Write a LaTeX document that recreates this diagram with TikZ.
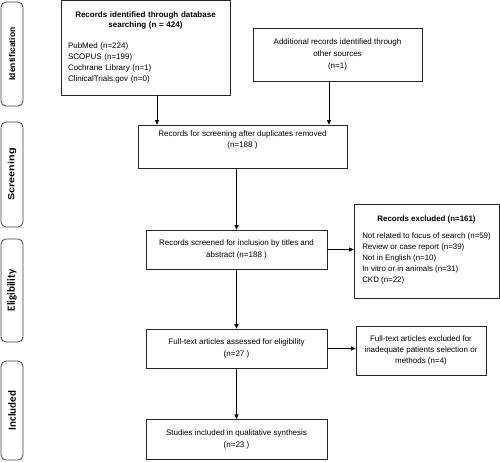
\documentclass[tikz,border=0pt]{standalone}
\usepackage{fontspec}
\usepackage{graphicx}
\setmainfont{Liberation Sans}
\newfontfamily\calib{Carlito}
\usetikzlibrary{arrows.meta}
\tikzset{
  box/.style={draw=black!85, line width=0.7pt, inner sep=0pt, align=center,
    font=\fontsize{8}{11.2}\selectfont},
  sidebox/.style={draw=black!75, line width=0.8pt, rounded corners=5pt, inner sep=0pt,
    minimum width=22pt},
  arr/.style={line width=0.7pt, -{Triangle[length=4.5pt,width=4pt]}}
}
\begin{document}
\begin{tikzpicture}[x=1pt,y=-1pt]
\useasboundingbox (0,0) rectangle (500,461);
% side labels
\node[sidebox, minimum height=104pt] (s1) at (12,54)
  {\rotatebox{90}{\fontsize{8.5}{10}\selectfont\bfseries Identification}};
\node[sidebox, minimum height=105pt] (s2) at (12,174.5)
  {\rotatebox{90}{\scalebox{1.2}[1]{\fontsize{9}{10}\selectfont\bfseries Screening}}};
\node[sidebox, minimum height=103pt] (s3) at (12,290.5)
  {\rotatebox{90}{\fontsize{11}{12}\selectfont\calib\bfseries Eligibility}};
\node[sidebox, minimum height=99pt] (s4) at (12,410.5)
  {\rotatebox{90}{\fontsize{11}{12}\selectfont\calib\bfseries Included}};
% boxes
\node[box, minimum width=169pt, minimum height=94.5pt, text width=155pt, align=left] (b1) at (145.5,47.75)
  {{\centering\bfseries\fontsize{8}{10}\selectfont Records identified through database\\ searching (n = 424)\par}\vspace{9.5pt}
   PubMed (n=224)\\ SCOPUS (n=199)\\ Cochrane Library (n=1)\\ ClinicalTrials.gov (n=0)};
\node[box, minimum width=169pt, minimum height=53pt] (b2) at (337.5,54.5)
  {Additional records identified through\\ other sources\\[1pt] (n=1)};
\node[box, minimum width=209pt, minimum height=43pt] (b3) at (242.5,146.5)
  {Records for screening after duplicates removed\\ (n=188 )\\[4pt]};
\node[box, minimum width=181pt, minimum height=39pt] (b4) at (236.5,249.5)
  {Records screened for inclusion by titles and\\ abstract (n=188 )};
\node[box, minimum width=145pt, minimum height=94pt, font=\fontsize{7.9}{11}\selectfont] (b5) at (426.5,251)
  {\textbf{Records excluded (n=161)}\\[7pt]
   \begin{tabular}{@{}l@{}}
   Not related to focus of search (n=59)\\ Review or case report (n=39)\\ Not in English (n=10)\\
   In vitro or in animals (n=31)\\ CKD (n=22)
   \end{tabular}};
\node[box, minimum width=181pt, minimum height=39pt] (b6) at (236.5,348.5)
  {Full-text articles assessed for eligibility\\ (n=27 )};
\node[box, minimum width=130pt, minimum height=49pt] (b7) at (421,350.5)
  {Full-text articles excluded for\\ inadequate patients selection or\\ methods (n=4)};
\node[box, minimum width=181pt, minimum height=40.5pt] (b8) at (236.5,439.5)
  {Studies included in qualitative synthesis\\ (n=23 )};
% connectors
\coordinate (x1) at (157,0);
\coordinate (x2) at (329,0);
\draw[arr] (b1.south -| x1) -- (b3.north -| x1);
\draw[arr] (b2.south -| x2) -- (b3.north -| x2);
\draw[arr] (b3.south -| b4.north) -- (b4.north);
\draw[arr] (b4.east) -- (b4.east -| b5.west);
\draw[arr] (b4.south) -- (b6.north);
\draw[arr] (b6.east) -- (b6.east -| b7.west);
\draw[arr] (b6.south) -- (b8.north);
\end{tikzpicture}
\end{document}
